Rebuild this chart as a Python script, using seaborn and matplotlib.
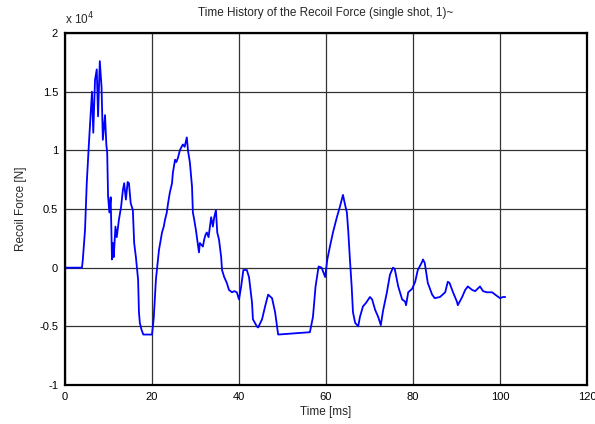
import matplotlib
matplotlib.use("Agg")
import matplotlib.pyplot as plt
import seaborn as sns
import pandas as pd

time_ms = [0, 3.9, 4.1, 4.6, 5.0, 5.5, 6.2, 6.5, 6.9, 7.3, 7.6, 8.0, 8.4, 8.7, 9.2, 9.5, 9.7, 9.9,
           10.2, 10.5, 10.8, 11.0, 11.2, 11.6, 11.9, 12.4, 12.9, 13.3, 13.6, 14.0, 14.4, 14.7, 15.1,
           15.6, 15.9, 16.3, 16.8, 17.0, 17.2, 17.6, 18.0, 20.0, 20.4, 20.9, 21.1, 21.6, 22.3, 22.7,
           23.0, 23.4, 23.7, 24.1, 24.6, 24.8, 25.3, 25.6, 26.0, 26.4, 26.8, 27.1, 27.5, 28.0, 28.3,
           28.7, 29.2, 29.4, 29.7, 30.1, 30.6, 30.8, 31.0, 31.7, 32.0, 32.3, 32.6, 33.0, 33.6, 34.0,
           34.3, 34.7, 35.0, 35.4, 35.9, 36.1, 36.6, 37.2, 37.7, 38.4, 38.9, 39.5, 40.0, 40.5, 41.0,
           41.8, 42.3, 43.0, 43.2, 44.1, 44.4, 45.3, 46.0, 46.7, 47.6, 48.3, 49.0, 56.3, 57.0, 57.6,
           58.3, 59.0, 59.8, 60.3, 60.9, 61.6, 62.5, 63.2, 63.9, 64.3, 64.8, 65.1, 65.5, 65.9, 66.2,
           66.7, 67.4, 67.8, 68.5, 69.2, 70.1, 70.6, 71.3, 72.0, 72.6, 73.1, 74.0, 74.7, 75.4, 75.8,
           76.6, 77.5, 78.2, 78.4, 78.9, 79.8, 80.5, 81.1, 82.1, 82.3, 82.7, 83.4, 84.4, 85.0, 86.2,
           87.4, 88.0, 88.4, 89.2, 90.1, 90.3, 91.3, 92.0, 92.6, 93.6, 94.3, 95.4, 96.1, 97.0, 98.2,
           98.9, 100.0, 100.7, 101.2]
force_e4 = [0, 0, 0.07, 0.32, 0.72, 1.06, 1.5, 1.15, 1.6, 1.69, 1.29, 1.76, 1.54, 1.09, 1.3, 1.05, 0.98, 0.61,
            0.47, 0.6, 0.07, 0.21, 0.09, 0.35, 0.26, 0.41, 0.52, 0.66, 0.72, 0.58, 0.73, 0.72, 0.55,
            0.49, 0.21, 0.09, -0.1, -0.38, -0.47, -0.53, -0.57, -0.57, -0.43, -0.1, -0.03, 0.15, 0.3, 0.35,
            0.41, 0.47, 0.55, 0.64, 0.72, 0.81, 0.92, 0.9, 0.94, 1.0, 1.03, 1.05, 1.03, 1.11, 0.99,
            0.9, 0.69, 0.47, 0.41, 0.32, 0.18, 0.13, 0.21, 0.18, 0.24, 0.28, 0.3, 0.26, 0.43, 0.35,
            0.43, 0.49, 0.3, 0.24, 0.09, -0.02, -0.08, -0.13, -0.19, -0.21, -0.2, -0.21, -0.27, -0.16, -0.02,
            -0.02, -0.08, -0.3, -0.44, -0.5, -0.51, -0.44, -0.33, -0.23, -0.26, -0.38, -0.57, -0.55, -0.42, -0.16,
            0.01, 0.0, -0.08, 0.07, 0.18, 0.3, 0.43, 0.52, 0.62, 0.55, 0.47, 0.32, 0.07, -0.16, -0.38,
            -0.47, -0.5, -0.42, -0.33, -0.3, -0.25, -0.27, -0.36, -0.42, -0.49, -0.37, -0.21, -0.06, 0.0, -0.01,
            -0.16, -0.27, -0.29, -0.32, -0.21, -0.18, -0.12, -0.02, 0.05, 0.07, 0.04, -0.13, -0.23, -0.26, -0.25,
            -0.21, -0.12, -0.13, -0.21, -0.29, -0.32, -0.25, -0.19, -0.16, -0.19, -0.2, -0.16, -0.2, -0.21, -0.21,
            -0.23, -0.26, -0.25, -0.25]

x_ticks = [0, 20, 40, 60, 80, 100, 120]
y_ticks = [-1, -0.5, 0, 0.5, 1, 1.5, 2]
y_tick_labels = ["-1", "-0.5", "0", "0.5", "1", "1.5", "2"]

sns.set_style("white")
plt.rcParams['font.family'] = ['Liberation Sans', 'DejaVu Sans']

df = pd.DataFrame({"t": time_ms, "F": force_e4})

fig = plt.figure(figsize=(5.95, 4.24), dpi=100)
ax = fig.add_axes([65/595, 1 - 385/424, (587 - 65)/595, (385 - 33)/424])

sns.lineplot(data=df, x="t", y="F", ax=ax, color=(0, 0, 1), linewidth=1.3, sort=False, estimator=None)

ax.set_xlim(0, 120)
ax.set_ylim(-1, 2)
ax.set_xticks(x_ticks)
ax.set_yticks(y_ticks)
ax.set_yticklabels(y_tick_labels)
ax.grid(True, color="#333333", linewidth=0.9, linestyle="-")
ax.set_axisbelow(True)
for s in ax.spines.values():
    s.set_visible(True)
    s.set_color("black")
    s.set_linewidth(1.6)
ax.tick_params(axis="both", direction="in", length=3, width=0.8, labelsize=8, pad=5, colors="black")

ax.set_xlabel("Time [ms]", fontsize=8.5, labelpad=3)
ax.set_ylabel("Recoil Force [N]", fontsize=8.5, labelpad=9)
ax.set_title("Time History of the Recoil Force (single shot, 1)~", fontsize=8.5, pad=12)
fig.text(65/595, 1 - 19/424, r"x 10$^{4}$", fontsize=8.5, ha="left", va="center")

fig.savefig("out.png", dpi=100)
